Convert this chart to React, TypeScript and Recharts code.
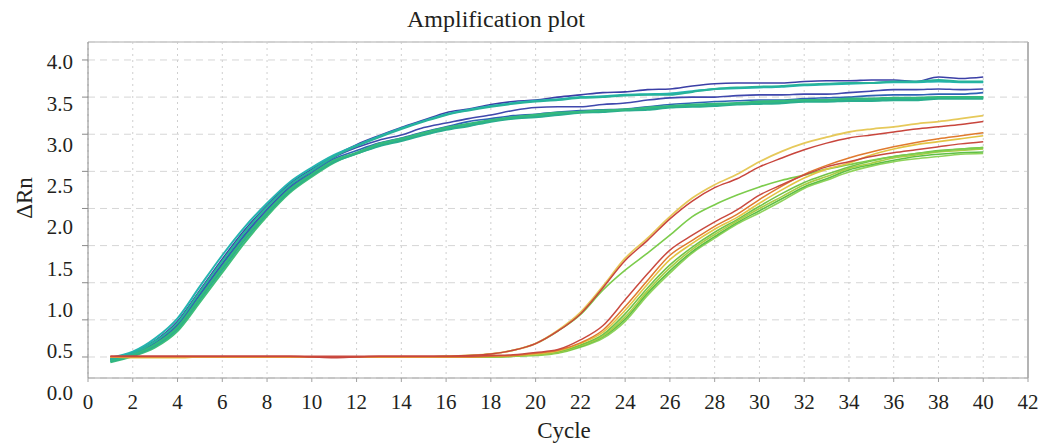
import React from 'react';
import { LineChart, Line, XAxis, YAxis, CartesianGrid, ReferenceLine } from 'recharts';

const cycles = [1,2,3,4,5,6,7,8,9,10,11,12,13,14,15,16,17,18,19,20,21,22,23,24,25,26,27,28,29,30,31,32,33,34,35,36,37,38,39,40];
const xTicks = [0,2,4,6,8,10,12,14,16,18,20,22,24,26,28,30,32,34,36,38,40,42];
const yTicks = [0,0.5,1,1.5,2,2.5,3,3.5,4];

// early (blue / green) group
const E1 = [-0.02,0.06,0.22,0.48,0.90,1.32,1.71,2.04,2.33,2.53,2.71,2.86,2.98,3.09,3.19,3.29,3.34,3.40,3.44,3.46,3.50,3.53,3.56,3.57,3.60,3.61,3.65,3.68,3.69,3.69,3.69,3.71,3.72,3.72,3.73,3.73,3.71,3.77,3.75,3.77];
const E2 = [-0.03,0.05,0.21,0.46,0.88,1.29,1.68,2.02,2.31,2.51,2.70,2.84,2.96,3.07,3.17,3.26,3.32,3.37,3.41,3.44,3.46,3.49,3.50,3.52,3.53,3.53,3.57,3.61,3.63,3.64,3.65,3.67,3.68,3.69,3.69,3.71,3.71,3.73,3.71,3.71];
const E3 = [-0.03,0.04,0.19,0.44,0.85,1.26,1.65,1.99,2.29,2.50,2.69,2.82,2.92,2.99,3.09,3.15,3.21,3.26,3.32,3.36,3.37,3.37,3.40,3.42,3.46,3.49,3.50,3.50,3.52,3.53,3.53,3.54,3.54,3.56,3.58,3.60,3.60,3.61,3.60,3.61];
const E4 = [-0.04,0.04,0.18,0.42,0.83,1.24,1.63,1.97,2.27,2.48,2.67,2.78,2.88,2.95,3.03,3.10,3.17,3.21,3.25,3.27,3.30,3.32,3.33,3.34,3.37,3.40,3.42,3.44,3.45,3.46,3.46,3.48,3.49,3.50,3.52,3.53,3.53,3.54,3.54,3.56];
const E5 = [-0.05,0.03,0.17,0.40,0.80,1.21,1.60,1.95,2.25,2.46,2.65,2.75,2.87,2.94,3.02,3.09,3.14,3.19,3.23,3.26,3.29,3.30,3.32,3.33,3.36,3.38,3.40,3.41,3.42,3.44,3.45,3.46,3.46,3.48,3.48,3.49,3.49,3.50,3.50,3.50];
const E6 = [-0.06,0.02,0.15,0.38,0.78,1.18,1.58,1.93,2.23,2.45,2.63,2.74,2.84,2.91,2.99,3.06,3.11,3.17,3.21,3.23,3.26,3.29,3.30,3.32,3.33,3.36,3.37,3.38,3.40,3.41,3.42,3.44,3.44,3.45,3.45,3.46,3.46,3.48,3.48,3.48];
const E7 = [-0.01,0.07,0.25,0.52,0.95,1.37,1.75,2.07,2.35,2.55,2.72,2.85,2.97,3.08,3.18,3.27,3.33,3.38,3.42,3.45,3.47,3.50,3.51,3.53,3.54,3.55,3.58,3.61,3.62,3.63,3.64,3.66,3.67,3.68,3.69,3.70,3.70,3.71,3.70,3.70];
const E8 = [-0.07,0.01,0.13,0.35,0.74,1.14,1.54,1.90,2.21,2.43,2.62,2.74,2.85,2.92,3.00,3.07,3.12,3.18,3.22,3.24,3.27,3.30,3.31,3.33,3.34,3.37,3.38,3.39,3.41,3.42,3.43,3.45,3.45,3.46,3.46,3.47,3.47,3.49,3.49,3.49];

// late (red / yellow / green) group
const L1 = [0,0,0,0,0,0,0,0,0,0,0,0,0,0,0,0.01,0.02,0.04,0.09,0.18,0.36,0.60,0.95,1.33,1.60,1.89,2.14,2.32,2.46,2.63,2.77,2.88,2.96,3.03,3.07,3.10,3.14,3.17,3.21,3.25];
const L2 = [0.01,0.01,0.01,0.01,0.01,0.01,0.01,0.01,0.01,0.00,-0.01,0.00,0.01,0.01,0.01,0.01,0.02,0.04,0.09,0.18,0.35,0.58,0.93,1.30,1.57,1.86,2.10,2.28,2.40,2.56,2.68,2.79,2.88,2.95,2.99,3.03,3.07,3.10,3.13,3.17];
const L3 = [0,0,0,0,0,0,0,0,0,0,0,0,0,0,0,0.01,0.02,0.04,0.09,0.18,0.35,0.57,0.90,1.17,1.40,1.64,1.89,2.05,2.18,2.29,2.38,2.45,2.53,2.59,2.65,2.70,2.74,2.77,2.80,2.82];
const L4 = [0.01,0.01,0.01,0.01,0.01,0.01,0.01,0.01,0.01,0.01,0.01,0.01,0.01,0.01,0.01,0.01,0.01,0.02,0.03,0.06,0.10,0.23,0.42,0.77,1.12,1.44,1.64,1.82,1.98,2.18,2.32,2.45,2.56,2.63,2.70,2.75,2.79,2.83,2.87,2.90];
const L5 = [0,0,0,0,0,0,0,0,0,0,0,0,0,0,0,0,0,0.01,0.02,0.05,0.09,0.19,0.36,0.68,1.03,1.37,1.57,1.76,1.92,2.12,2.30,2.46,2.58,2.68,2.76,2.83,2.89,2.94,2.98,3.02];
const L6 = [0,-0.01,-0.01,-0.01,0,0,0,0,0,0,0,0,0,0,0,0,0,0.01,0.02,0.04,0.08,0.18,0.33,0.63,0.98,1.31,1.53,1.72,1.88,2.07,2.25,2.41,2.53,2.61,2.72,2.80,2.86,2.90,2.94,2.98];
const L7 = [0,0,0,0,0,0,0,0,0,0,0,0,0,0,0,0,0,0.01,0.02,0.04,0.07,0.16,0.30,0.58,0.93,1.24,1.48,1.68,1.85,2.03,2.20,2.35,2.46,2.56,2.64,2.70,2.74,2.78,2.80,2.82];
const L8 = [0,0,0,0,0,0,0,0,0,0,0,0,0,0,0,0,0,0,0.01,0.03,0.06,0.15,0.28,0.54,0.89,1.20,1.45,1.65,1.83,2.00,2.16,2.32,2.43,2.54,2.61,2.68,2.72,2.76,2.78,2.80];
const L9 = [0,0,0,0,0,0,0,0,0,0,0,0,0,0,0,0,0,0,0.01,0.03,0.06,0.14,0.27,0.51,0.86,1.16,1.42,1.62,1.81,1.97,2.13,2.29,2.40,2.52,2.59,2.65,2.70,2.73,2.75,2.76];
const L10 = [0,0,0,0,0,0,0,0,0,0,0,0,0,0,0,0,0,0,0.01,0.02,0.05,0.13,0.25,0.48,0.83,1.13,1.40,1.60,1.79,1.94,2.10,2.27,2.38,2.49,2.57,2.63,2.67,2.70,2.73,2.74];

const seriesValues: Record<string, number[]> = { E1, E2, E3, E4, E5, E6, E7, E8, L1, L2, L3, L4, L5, L6, L7, L8, L9, L10 };

// drawing order and colours
const seriesStyle = [
  { key: 'E1', color: '#3b3fa6', width: 1.6 },
  { key: 'E3', color: '#4048ad', width: 1.6 },
  { key: 'E4', color: '#2f63b5', width: 1.6 },
  { key: 'E8', color: '#3fc07a', width: 2.2 },
  { key: 'E6', color: '#2aae8f', width: 2.2 },
  { key: 'E5', color: '#33b97e', width: 2.2 },
  { key: 'E7', color: '#25b4b0', width: 2.0 },
  { key: 'E2', color: '#27b39a', width: 2.0 },
  { key: 'L10', color: '#8fd35a', width: 1.6 },
  { key: 'L9', color: '#5fbf45', width: 1.6 },
  { key: 'L8', color: '#a9cc45', width: 1.6 },
  { key: 'L7', color: '#72c347', width: 1.6 },
  { key: 'L3', color: '#7ccc4c', width: 1.6 },
  { key: 'L6', color: '#e2c444', width: 1.6 },
  { key: 'L1', color: '#e6c95a', width: 1.8 },
  { key: 'L5', color: '#e07a2e', width: 1.5 },
  { key: 'L4', color: '#c94a40', width: 1.5 },
  { key: 'L2', color: '#c8453c', width: 1.5 },
];

const data = cycles.map((c, i) => {
  const row: Record<string, number> = { cycle: c };
  Object.keys(seriesValues).forEach((k) => { row[k] = seriesValues[k][i]; });
  return row;
});

const FONT = '"Liberation Serif", "Times New Roman", serif';
const TXT = '#231f20';

const YTick = (props: any) => {
  const { x, y, payload } = props;
  const k = (4 - payload.value) / 0.5;
  return (
    <text x={x} y={y + 2 + 4.15 * k} dy="0.35em" textAnchor="end" fontFamily={FONT} fontSize={21} fill={TXT}>
      {Number(payload.value).toFixed(1)}
    </text>
  );
};

export default function App() {
  return (
    <div style={{ position: 'absolute', left: 0, top: 0, width: 1046, height: 446, background: '#fff' }}>
      <LineChart width={1046} height={446} data={data} margin={{ top: 42, right: 18, bottom: 0, left: 0 }}>
        <CartesianGrid vertical={false} stroke="#d6d6d6" strokeDasharray="7 5" />
        <CartesianGrid horizontal={false} stroke="#cfcfcf" strokeDasharray="2 4" />
        <XAxis
          type="number"
          dataKey="cycle"
          domain={[0, 42]}
          ticks={xTicks}
          interval={0}
          height={68}
          tickSize={4}
          tickMargin={12}
          stroke="#a0a0a0"
          tick={{ fontFamily: FONT, fontSize: 21, fill: TXT }}
        />
        <YAxis
          type="number"
          domain={[-0.283, 4.242]}
          ticks={yTicks}
          interval={0}
          width={88}
          tickSize={6}
          tickMargin={9}
          stroke="#8a8a8a"
          allowDataOverflow
          tick={<YTick />}
        />
        <ReferenceLine y={4.242} stroke="#c8c8c8" strokeWidth={1.5} />
        <ReferenceLine x={42} stroke="#b4b4b4" strokeWidth={2} />
        {seriesStyle.map((s) => (
          <Line
            key={s.key}
            type="monotone"
            dataKey={s.key}
            stroke={s.color}
            strokeWidth={s.width}
            dot={false}
            activeDot={false}
            isAnimationActive={false}
          />
        ))}
      </LineChart>
      <svg width={1046} height={446} style={{ position: 'absolute', left: 0, top: 0, pointerEvents: 'none' }}>
        <text x={496} y={27} textAnchor="middle" fontFamily={FONT} fontSize={24} fill={TXT}>Amplification plot</text>
        <text x={564} y={438} textAnchor="middle" fontFamily={FONT} fontSize={23} fill={TXT}>Cycle</text>
        <text x={32} y={198} textAnchor="middle" fontFamily={FONT} fontSize={23} fill={TXT} transform="rotate(-90 32 198)">ΔRn</text>
      </svg>
    </div>
  );
}
